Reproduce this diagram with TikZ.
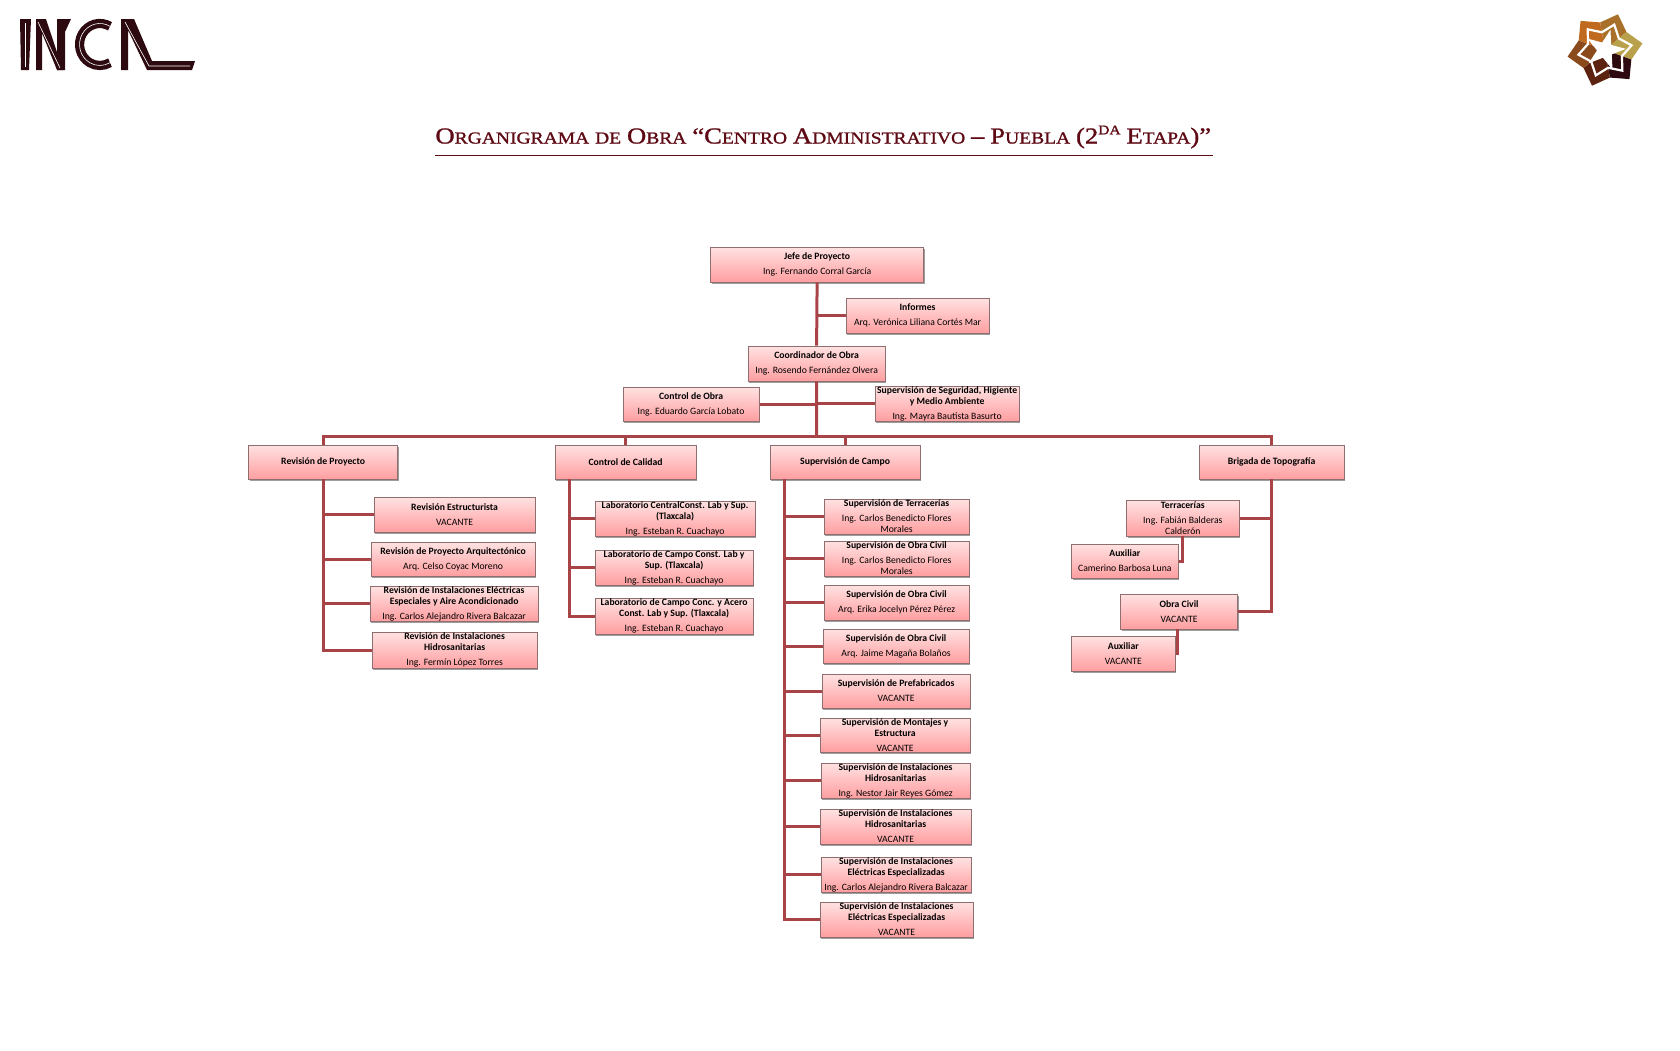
\documentclass[tikz,border=0pt]{standalone}
\usepackage{fontspec}
\newfontfamily\boxfont{Carlito}
\newfontfamily\titlefont[FakeBold=1.2, FakeStretch=1.17]{Liberation Serif}
\usepackage{xcolor}
\definecolor{ORGwire}{HTML}{A84348}
\definecolor{ORGedge}{HTML}{8F6E70}
\definecolor{ORGtop}{HTML}{FFE2E2}
\definecolor{ORGbot}{HTML}{FF9EA0}
\definecolor{ORGink}{HTML}{2D0A10}
\definecolor{ORGtitle}{HTML}{5E0A14}
\definecolor{ORGstarA}{HTML}{A8702A}
\definecolor{ORGstarB}{HTML}{B9A04A}
\definecolor{ORGstarC}{HTML}{5C2410}
\definecolor{ORGstarD}{HTML}{8A4A1C}
\definecolor{ORGstarE}{HTML}{C06A20}
\usetikzlibrary{shadows}
\newcommand{\pxu}{*0.5pt}
\newcommand{\capsm}[2]{{\fontsize{11.4}{12}\selectfont #1}{\fontsize{8.35}{10}\selectfont #2}}

\begin{document}
\begin{tikzpicture}[
  x=0.5pt, y=-0.5pt,
  orgbox/.style={
    draw=ORGedge, line width=0.4pt, anchor=north west,
    top color=ORGtop, bottom color=ORGbot,
    drop shadow={shadow xshift=0.6pt, shadow yshift=-1pt, fill=black!70, opacity=0.55},
    minimum height=35\pxu, inner sep=0pt, align=center,
    font=\boxfont\fontsize{4.85}{5.5}\selectfont
  },
  headbox/.style={orgbox, minimum height=34\pxu},
  link/.style={draw=ORGwire, line width=1.5pt},
  logofill/.style={fill=ORGink},
  logoline/.style={draw=white, line width=0.3pt},
]
\useasboundingbox (0,0) rectangle (1680,1050);

% Logo left
\fill[logofill] (20,19) -- (31,19) -- (29,70) -- (21,70) -- cycle;
\fill[logofill] (36,19) -- (46,19) -- (63,70) -- (57,70) -- (42,33) -- (42,70) -- (36,70) -- cycle;
\fill[logofill] (57,19) -- (71,19) -- (65,32) -- (65,70) -- (57,70) -- cycle;
\draw[draw=ORGink, line width=4.6pt] (110,26.3) arc[start angle=-60, end angle=-300, x radius=20.3, y radius=21];
\fill[logofill] (121,19) -- (134,19) -- (152,61) -- (195,61) -- (192,70) -- (147,70) -- (128,30) -- (128,70) -- (121,70) -- cycle;
\draw[logoline] (25,23) -- (25,67);
\draw[logoline] (38,22) -- (60,68);
\draw[logoline] (125,22) -- (149,66) -- (190,66);
\draw[logoline] (110,26.3) arc[start angle=-60, end angle=-300, x radius=20.3, y radius=21];

% Logo right
\coordinate (starc) at (1605,50);
\fill[fill=ORGstarA] (starc) -- +(-100:28) -- +(-70:38) -- +(-40:28) -- cycle;
\fill[fill=ORGstarB] (starc) -- +(-40:28) -- +(-10:38) -- +(20:28) -- cycle;
\fill[fill=ORGink] (starc) -- +(20:28) -- +(50:38) -- +(80:28) -- cycle;
\fill[fill=ORGstarC] (starc) -- +(80:28) -- +(110:38) -- +(140:28) -- cycle;
\fill[fill=ORGstarD] (starc) -- +(140:28) -- +(170:38) -- +(200:28) -- cycle;
\fill[fill=ORGstarE] (starc) -- +(200:28) -- +(230:38) -- +(260:28) -- cycle;
\draw[draw=white, line width=1.1pt] (starc) +(-100:18) -- +(-70:27) -- +(-40:18) -- +(-10:27) -- +(20:18) -- +(50:27) -- +(80:18) -- +(110:27) -- +(140:18) -- +(170:27) -- +(200:18) -- +(230:27) -- cycle;
\fill[fill=white] (starc) +(-75:21) -- +(-39:8) -- +(-3:21) -- +(33:8) -- +(69:21) -- +(105:8) -- +(141:21) -- +(177:8) -- +(213:21) -- +(249:8) -- cycle;

% Title
\node[font=\titlefont, text=ORGtitle, anchor=base west, inner sep=0pt] (titulo) at (435,143.5)
  {\capsm{O}{RGANIGRAMA} \capsm{}{DE} \capsm{O}{BRA} \capsm{“C}{ENTRO} \capsm{A}{DMINISTRATIVO} \capsm{–}{} \capsm{P}{UEBLA} \capsm{(2}{}{\fontsize{6.6}{7}\selectfont\raisebox{4.6pt}{DA}} \capsm{E}{TAPA}\capsm{)”}{}};
\coordinate (rulea) at (435,155.5);
\coordinate (ruleb) at (1213,155.5);
\draw[draw=ORGtitle, line width=0.5pt] (rulea) -- (ruleb);

\begin{scope}[shift={(-0.3,-0.4)}]
% Top of the chart
\node[orgbox, minimum width=213\pxu] (jefe) at (710.5,247) {\textbf{Jefe de Proyecto}\\[2pt]Ing. Fernando Corral García};
\node[orgbox, minimum width=143\pxu] (informes) at (846,298) {\textbf{Informes}\\[2pt]Arq. Verónica Liliana Cortés Mar};
\node[orgbox, minimum width=137\pxu] (coord) at (748,346) {\textbf{Coordinador de Obra}\\[2pt]Ing. Rosendo Fernández Olvera};
\node[headbox, minimum width=136\pxu] (ctrlobra) at (623,387) {\textbf{Control de Obra}\\[2pt]Ing. Eduardo García Lobato};
\node[orgbox, minimum width=144\pxu] (seguridad) at (875,386) {\textbf{Supervisión de Seguridad, Higiente}\\\textbf{y Medio Ambiente}\\[2pt]Ing. Mayra Bautista Basurto};

% Heads
\node[headbox, minimum width=149\pxu] (revp) at (248.5,445) {\textbf{Revisión de Proyecto}};
\node[headbox, minimum width=141\pxu] (calid) at (555,445) {\textbf{Control de Calidad}};
\node[headbox, minimum width=150\pxu] (supc) at (770,445) {\textbf{Supervisión de Campo}};
\node[headbox, minimum width=145\pxu] (brig) at (1199,445) {\textbf{Brigada de Topografía}};

% Revision
\node[orgbox, minimum width=161\pxu] (rev1) at (374,497) {\textbf{Revisión Estructurista}\\[2pt]VACANTE};
\node[headbox, minimum width=164\pxu] (rev2) at (371,542) {\textbf{Revisión de Proyecto Arquitectónico}\\[2pt]Arq. Celso Coyac Moreno};
\node[orgbox, minimum width=168\pxu] (rev3) at (370,586) {\textbf{Revisión de Instalaciones Eléctricas}\\\textbf{Especiales y Aire Acondicionado}\\[2pt]Ing. Carlos Alejandro Rivera Balcazar};
\node[orgbox, minimum width=165\pxu, minimum height=36\pxu] (rev4) at (372,632) {\textbf{Revisión de Instalaciones}\\\textbf{Hidrosanitarias}\\[2pt]Ing. Fermín López Torres};

% Calidad
\node[orgbox, minimum width=160\pxu] (lab1) at (595,501) {\textbf{Laboratorio CentralConst. Lab y Sup.}\\\textbf{(Tlaxcala)}\\[2pt]Ing. Esteban R. Cuachayo};
\node[orgbox, minimum width=158\pxu] (lab2) at (595,550) {\textbf{Laboratorio de Campo Const. Lab y}\\\textbf{Sup. (Tlaxcala)}\\[2pt]Ing. Esteban R. Cuachayo};
\node[orgbox, minimum width=158\pxu, minimum height=36\pxu] (lab3) at (595,598) {\textbf{Laboratorio de Campo Conc. y Acero}\\\textbf{Const. Lab y Sup. (Tlaxcala)}\\[2pt]Ing. Esteban R. Cuachayo};

% Supervision
\node[orgbox, minimum width=145\pxu] (sup1) at (824,499) {\textbf{Supervisión de Terracerías}\\[2pt]Ing. Carlos Benedicto Flores\\Morales};
\node[orgbox, minimum width=145\pxu] (sup2) at (824,541) {\textbf{Supervisión de Obra Civil}\\[2pt]Ing. Carlos Benedicto Flores\\Morales};
\node[orgbox, minimum width=145\pxu] (sup3) at (824,585) {\textbf{Supervisión de Obra Civil}\\[2pt]Arq. Erika Jocelyn Pérez Pérez};
\node[headbox, minimum width=146\pxu] (sup4) at (823,629) {\textbf{Supervisión de Obra Civil}\\[2pt]Arq. Jaime Magaña Bolaños};
\node[headbox, minimum width=148\pxu] (sup5) at (822,674) {\textbf{Supervisión de Prefabricados}\\[2pt]VACANTE};
\node[headbox, minimum width=150\pxu] (sup6) at (820,718) {\textbf{Supervisión de Montajes y}\\\textbf{Estructura}\\[2pt]VACANTE};
\node[orgbox, minimum width=149\pxu] (sup7) at (821,763) {\textbf{Supervisión de Instalaciones}\\\textbf{Hidrosanitarias}\\[2pt]Ing. Nestor Jair Reyes Gómez};
\node[orgbox, minimum width=151\pxu] (sup8) at (820,809) {\textbf{Supervisión de Instalaciones}\\\textbf{Hidrosanitarias}\\[2pt]VACANTE};
\node[orgbox, minimum width=150\pxu] (sup9) at (821,857) {\textbf{Supervisión de Instalaciones}\\\textbf{Eléctricas Especializadas}\\[2pt]Ing. Carlos Alejandro Rivera Balcazar};
\node[orgbox, minimum width=153\pxu] (sup10) at (820,902) {\textbf{Supervisión de Instalaciones}\\\textbf{Eléctricas Especializadas}\\[2pt]VACANTE};

% Brigada
\node[orgbox, minimum width=112.5\pxu, minimum height=36\pxu] (terr) at (1126.5,500) {\textbf{Terracerías}\\[2pt]Ing. Fabián Balderas\\Calderón};
\node[headbox, minimum width=106.5\pxu] (aux1) at (1071.5,544) {\textbf{Auxiliar}\\[2pt]Camerino Barbosa Luna};
\node[orgbox, minimum width=117\pxu] (ocivil) at (1120.5,594) {\textbf{Obra Civil}\\[2pt]VACANTE};
\node[orgbox, minimum width=103.5\pxu] (aux2) at (1071.5,636) {\textbf{Auxiliar}\\[2pt]VACANTE};

% Free ends of the wires
\coordinate (busc) at (817,437);
\coordinate (calspine) at (569.5,479);
\coordinate (supspine) at (785,479);
\coordinate (terrdrop) at (1183,536);
\coordinate (ocdrop) at (1178,629);

% Wires
\draw[link] (jefe.south) -- (coord.north);
\draw[link] (informes.west) -- (informes.west -| jefe.south);
\draw[link] (coord.south) -- (busc);
\draw[link] (ctrlobra.east) -- (ctrlobra.east -| busc);
\draw[link] (seguridad.west) -- (seguridad.west -| busc);
\draw[link] (revp.north) |- (busc);
\draw[link] (calid.north) |- (busc);
\draw[link] (supc.north) |- (busc);
\draw[link] (brig.north) |- (busc);

\draw[link] (revp.south) |- (rev4.west);
\draw[link] (rev1.west) -- (rev1.west -| revp.south);
\draw[link] (rev2.west) -- (rev2.west -| revp.south);
\draw[link] (rev3.west) -- (rev3.west -| revp.south);

\draw[link] (calspine) |- (lab3.west);
\draw[link] (lab1.west) -- (lab1.west -| calspine);
\draw[link] (lab2.west) -- (lab2.west -| calspine);

\draw[link] (supspine) |- (sup10.west);
\draw[link] (sup1.west) -- (sup1.west -| supspine);
\draw[link] (sup2.west) -- (sup2.west -| supspine);
\draw[link] (sup3.west) -- (sup3.west -| supspine);
\draw[link] (sup4.west) -- (sup4.west -| supspine);
\draw[link] (sup5.west) -- (sup5.west -| supspine);
\draw[link] (sup6.west) -- (sup6.west -| supspine);
\draw[link] (sup7.west) -- (sup7.west -| supspine);
\draw[link] (sup8.west) -- (sup8.west -| supspine);
\draw[link] (sup9.west) -- (sup9.west -| supspine);

\draw[link] (brig.south) |- (ocivil.east);
\draw[link] (terr.east) -- (terr.east -| brig.south);
\draw[link] (terrdrop) |- (aux1.east);
\draw[link] (ocdrop) |- (aux2.east);
\end{scope}

\end{tikzpicture}
\end{document}
